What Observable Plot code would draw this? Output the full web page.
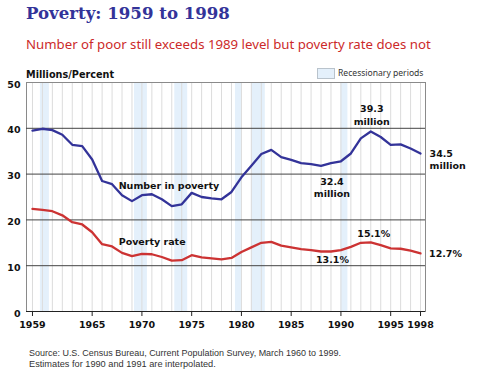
<!DOCTYPE html>
<html><head><meta charset="utf-8">
<script src="https://cdn.jsdelivr.net/npm/d3@7"></script>
<script src="https://cdn.jsdelivr.net/npm/@observablehq/plot@0.6"></script>
<style>
body{margin:0;background:#fff;}
#wrap{position:relative;width:480px;height:382px;overflow:hidden;background:#fff;}
.t{position:absolute;left:0;top:0;white-space:nowrap;line-height:1;}
#plot{position:absolute;left:0;top:80px;}
#legbox{position:absolute;left:317px;top:68px;width:16px;height:9px;background:#e4f0fb;border:1px solid #b9c3cc;}
</style></head><body>
<div id="wrap">
  <div class="t" data-x="26" data-b="19.3" data-w="204" style="font-family:'DejaVu Serif';font-weight:bold;font-size:16.5px;color:#333399">Poverty: 1959 to 1998</div>
  <div class="t" data-x="26" data-b="49.3" data-w="405" style="font-family:'Noto Sans';font-size:12.5px;color:#cc2a2a">Number of poor still exceeds 1989 level but poverty rate does not</div>
  <div class="t" data-x="26" data-b="77.5" data-w="88" style="font-family:'DejaVu Sans';font-weight:bold;font-size:9.4px;color:#111">Millions/Percent</div>
  <div id="legbox"></div>
  <div class="t" data-x="338" data-b="76" data-w="85.5" style="font-family:'Noto Sans';font-size:9px;color:#333">Recessionary periods</div>
  <div id="plot"></div>
  <div class="t" data-x="29" data-b="356.2" data-w="312" style="font-family:'Liberation Sans';font-size:9px;color:#333">Source: U.S. Census Bureau, Current Population Survey, March 1960 to 1999.</div>
  <div class="t" data-x="29" data-b="366.8" data-w="187" style="font-family:'Liberation Sans';font-size:9px;color:#333">Estimates for 1990 and 1991 are interpolated.</div>
</div>
<script>
// ---- data ----
const years = [1959,1960,1961,1962,1963,1964,1965,1966,1967,1968,1969,1970,1971,1972,1973,1974,1975,1976,1977,1978,
               1979,1980,1981,1982,1983,1984,1985,1986,1987,1988,1989,1990,1991,1992,1993,1994,1995,1996,1997,1998];
const numberInPoverty = [39.5,39.9,39.6,38.6,36.4,36.1,33.2,28.5,27.8,25.4,24.1,25.4,25.6,24.5,23.0,23.4,25.9,25.0,24.7,24.5,
                         26.1,29.3,31.8,34.4,35.3,33.7,33.1,32.4,32.2,31.8,32.4,32.8,34.5,37.8,39.3,38.1,36.4,36.5,35.6,34.5];
const povertyRate = [22.4,22.2,21.9,21.0,19.5,19.0,17.3,14.7,14.2,12.8,12.1,12.6,12.5,11.9,11.1,11.2,12.3,11.8,11.6,11.4,
                     11.7,13.0,14.0,15.0,15.2,14.4,14.0,13.6,13.4,13.1,13.1,13.4,14.1,15.0,15.1,14.5,13.8,13.7,13.3,12.7];
const recessionStart = [1959.8, 1969.25, 1973.3, 1979.4, 1981.0, 1990.0];
const recessionEnd   = [1960.7, 1970.55, 1974.6, 1980.0, 1982.4, 1990.7];
const xTicks = [1959,1965,1970,1975,1980,1985,1990,1995,1998];
const yTicks = [0,10,20,30,40,50];
const seriesNames = ["Number in poverty", "Poverty rate"];
const annoYear  = [1993, 1998, 1989, 1993, 1989, 1998];
const annoValue = [39.3, 34.5, 32.4, 15.1, 13.1, 12.7];
const annoText  = ["39.3\nmillion", "34.5\nmillion", "32.4\nmillion", "15.1%", "13.1%", "12.7%"];

// ---- tables built from the arrays ----
const series = [
  ...years.map((y,i)=>({year:y, value:numberInPoverty[i], s:seriesNames[0]})),
  ...years.map((y,i)=>({year:y, value:povertyRate[i], s:seriesNames[1]}))
];
const recessions = recessionStart.map((s,i)=>({start:s, end:recessionEnd[i]}));
const BLUE = "#333399", RED = "#cc3333";

function anno(i, opts) {
  return Plot.text([i], {x: j=>annoYear[j], y: j=>annoValue[j], text: j=>annoText[j],
    fill:"#111", lineHeight:1.3, ...opts});
}
function seriesLabel(k, arr, opts) {
  const idx = years.indexOf(1969);
  return Plot.text([k], {x: ()=>years[idx], y: ()=>arr[idx], text: j=>seriesNames[j],
    fill:"#111", textAnchor:"start", lineAnchor:"bottom", ...opts});
}

const chart = Plot.plot({
  width: 480, height: 260,
  marginTop: 2, marginBottom: 29, marginLeft: 26, marginRight: 55,
  style: {fontFamily:"DejaVu Sans", fontSize:"9.5px", fontWeight:"bold", background:"transparent", color:"#111"},
  x: {domain:[1958.4, 1998.5], label:null},
  y: {domain:[0, 50], label:null},
  marks: [
    Plot.rect(recessions, {x1:"start", x2:"end", fill:"#e4f0fb"}),
    Plot.ruleX(years, {stroke:"#dcdcdc", strokeWidth:1}),
    Plot.frame({stroke:"#8a8a8a"}),
    Plot.ruleY(yTicks.filter(d=>d>0 && d<50), {stroke:"#444", strokeWidth:1}),
    Plot.ruleY([0], {stroke:"#222", strokeWidth:1}),
    Plot.line(series.filter(d=>d.s===seriesNames[0]), {x:"year", y:"value", stroke:BLUE, strokeWidth:2.3}),
    Plot.line(series.filter(d=>d.s===seriesNames[1]), {x:"year", y:"value", stroke:RED, strokeWidth:2.3}),
    anno(0, {textAnchor:"middle", lineAnchor:"bottom", dx:1, dy:-7}),
    anno(1, {textAnchor:"start", lineAnchor:"bottom", dx:9, dy:16}),
    anno(2, {textAnchor:"middle", lineAnchor:"bottom", dx:1, dy:34}),
    anno(3, {textAnchor:"middle", lineAnchor:"bottom", dx:3, dy:-5}),
    anno(4, {textAnchor:"middle", lineAnchor:"bottom", dx:1.5, dy:11.3}),
    anno(5, {textAnchor:"start", lineAnchor:"bottom", dx:8.5, dy:4}),
    seriesLabel(0, numberInPoverty, {dx:-13.3, dy:-12.5}),
    seriesLabel(1, povertyRate, {dx:-13.3, dy:-10.6}),
    Plot.axisY({ticks:yTicks, tickSize:0, tickPadding:6, dy:2, fontWeight:"bold", fill:"#111", label:null}),
    Plot.axisX({ticks:xTicks, tickFormat:d=>String(d), tickSize:5, tickPadding:5, fontWeight:"bold", fill:"#111", stroke:"#222", label:null})
  ]
});
document.getElementById("plot").appendChild(chart);

// ---- place HTML texts by baseline and fit widths ----
const wrapTop = document.getElementById("wrap").getBoundingClientRect().top;
document.querySelectorAll(".t").forEach(el=>{
  el.style.left = (+el.dataset.x)+"px";
  const mk = document.createElement("span");
  mk.style.cssText = "display:inline-block;width:0;height:0;vertical-align:baseline";
  el.appendChild(mk);
  const w = +el.dataset.w, b = +el.dataset.b;
  if (w) {
    const fs = parseFloat(getComputedStyle(el).fontSize);
    const cur = el.getBoundingClientRect().width;
    el.style.fontSize = (fs*w/cur)+"px";
  }
  const bl = mk.getBoundingClientRect().bottom - wrapTop;
  el.style.top = (b - bl)+"px";
});
</script>
</body></html>
